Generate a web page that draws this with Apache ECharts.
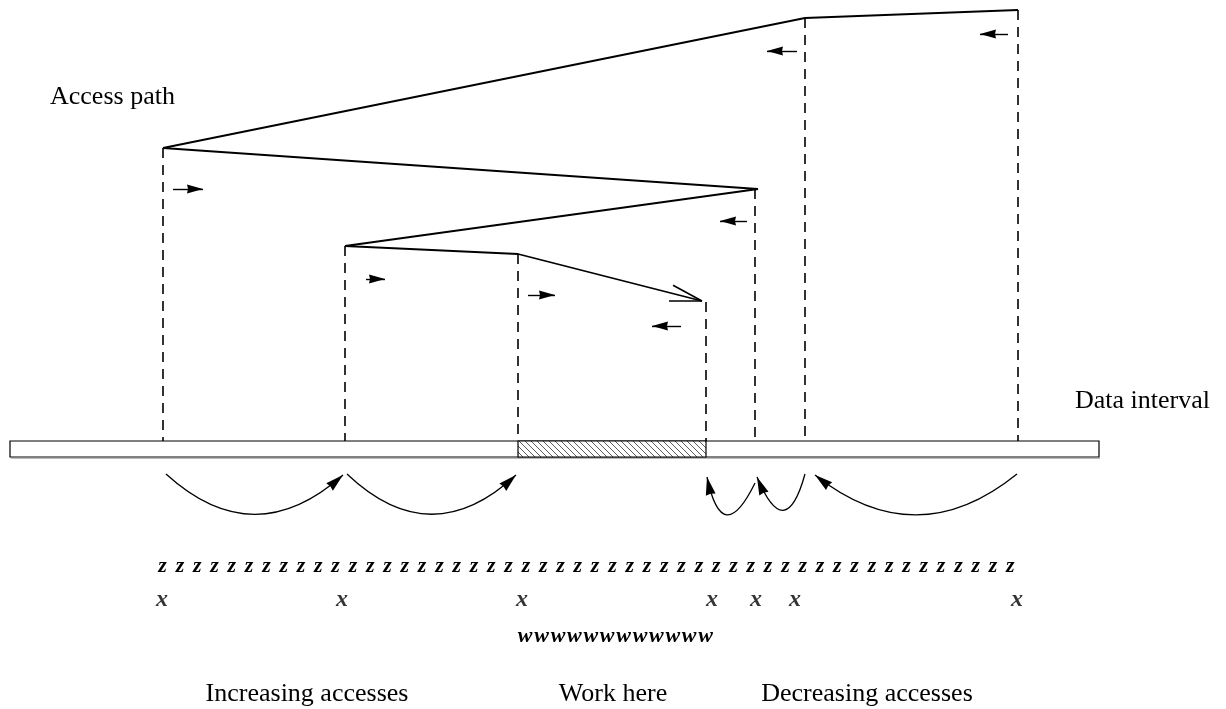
<!DOCTYPE html>
<html><head><meta charset="utf-8">
<script src="https://cdn.jsdelivr.net/npm/echarts@6/dist/echarts.min.js"></script>
<style>html,body{margin:0;padding:0;background:#fff}#c{width:1226px;height:709px}</style>
</head><body><div id="c"></div><script>
// Access path, in access order
const pathX = [1018, 805, 163, 758, 345, 518, 702];
const pathY = [10, 18, 148, 189, 246, 254, 301];
// Dashed drop lines (x, top y)
const dropX = [163, 345, 518, 706, 755, 805, 1018];
const dropTop = [148, 246, 254, 302, 189, 18, 10];
// Data interval bar
const intervalRange = [10, 1099];
const workRange = [518, 706];
const barRange = [441, 457];
// Direction arrows [x1, y1, x2, y2]
const dirArrows = [[173,189,203,189],[366,279,385,279],[528,295,555,295],[681,326,652,326],[747,221,720,221],[797,51,767,51],[1008,34,980,34]];
// Jump arrows below the interval
const jumpFrom = [166, 347, 755, 805, 1017];
const jumpTo = [343, 516, 707, 757, 815];
const jumpY1 = [474, 474, 483, 474, 474];
const jumpY2 = [475, 475, 477, 477, 475];
const jumpCurve = [-0.45, -0.47, 1.45, 1.45, 0.4];
// Marks row
const markX = [162, 342, 522, 712, 756, 795, 1017];
const zCount = 50;
const wCount = 12;
const labels = ['Access path', 'Data interval', 'Increasing accesses', 'Work here', 'Decreasing accesses'];

const serif = '"Liberation Serif", "DejaVu Serif", serif';
const chart = echarts.init(document.getElementById('c'), null, {renderer: 'canvas'});

// hatch pattern
const pc = document.createElement('canvas');
pc.width = 6; pc.height = 6;
const pctx = pc.getContext('2d');
pctx.fillStyle = '#fff'; pctx.fillRect(0,0,6,6);
pctx.strokeStyle = '#333'; pctx.lineWidth = 0.8;
pctx.beginPath();
pctx.moveTo(-1,-1); pctx.lineTo(7,7);
pctx.moveTo(-1,5); pctx.lineTo(1,7);
pctx.moveTo(5,-1); pctx.lineTo(7,1);
pctx.stroke();

const tipA = [pathX[pathX.length-2], pathY[pathY.length-2]];
const tipB = [pathX[pathX.length-1], pathY[pathY.length-1]];
const ang = Math.atan2(tipB[1]-tipA[1], tipB[0]-tipA[0]) + Math.PI;
const barbLen = 33, barbAng = 0.25;
const barbs = [-1, 1].map(s => ({coords: [tipB, [tipB[0] + barbLen*Math.cos(ang + s*barbAng), tipB[1] + barbLen*Math.sin(ang + s*barbAng)]]}));

// arrowheads: tip at the symbol centre
const headSmall = 'path://M0,0 M32,32 M16,16 L20.5,32 L16,31 L11.5,32 Z';
const headCurve = 'path://M0,0 M36,36 M18,18 L23,36 L18,35 L13,36 Z';

const txt = (t, x, y, align) => ({type: 'text', x, y, style: {text: t, x: 0, y: 0, align: align || 'left', verticalAlign: 'middle', font: '26px ' + serif, fill: '#000'}});
const bi = 'italic bold 22px ' + serif;

chart.setOption({
  animation: false,
  backgroundColor: '#fff',
  grid: {left: 0, right: 0, top: 0, bottom: 0},
  xAxis: {type: 'value', min: 0, max: 1226, show: false},
  yAxis: {type: 'value', min: 0, max: 709, inverse: true, show: false},
  graphic: [
    txt(labels[0], 50, 97),
    txt(labels[1], 1075, 401),
    txt(labels[2], 307, 694, 'center'),
    txt(labels[3], 613, 694, 'center'),
    txt(labels[4], 867, 694, 'center'),
    {type: 'text', x: 154, y: 566, style: {text: Array(zCount).fill('{z|z}').join(''), verticalAlign: 'middle',
      rich: {z: {width: 17.3, align: 'center', font: bi, fill: '#000'}}}},
    {type: 'text', x: 517, y: 636, style: {text: Array(wCount).fill('{w|w}').join(''), verticalAlign: 'middle',
      rich: {w: {width: 16.4, align: 'center', font: bi, fill: '#000'}}}}
  ],
  series: [
    {
      type: 'lines', coordinateSystem: 'cartesian2d', silent: true,
      lineStyle: {color: '#bbb', width: 1.2, opacity: 1},
      data: [{coords: [[intervalRange[0] + 1, barRange[1] + 1.5], [intervalRange[1] + 1, barRange[1] + 1.5]]}]
    },
    {
      type: 'custom', coordinateSystem: 'cartesian2d', silent: true,
      data: [[intervalRange[0], intervalRange[1], 0], [workRange[0], workRange[1], 1]],
      renderItem: (params, api) => {
        const p0 = api.coord([api.value(0), barRange[0]]);
        const p1 = api.coord([api.value(1), barRange[1]]);
        const hatched = api.value(2) === 1;
        return {type: 'rect', shape: {x: p0[0], y: p0[1], width: p1[0]-p0[0], height: p1[1]-p0[1]},
          style: {fill: hatched ? {image: pc, repeat: 'repeat'} : '#fff', stroke: '#000', lineWidth: 1.2}};
      }
    },
    {
      type: 'lines', coordinateSystem: 'cartesian2d', silent: true,
      lineStyle: {color: '#000', width: 1.6, type: [10, 7], opacity: 1},
      data: dropX.map((x, i) => ({coords: [[x, dropTop[i]], [x, barRange[0]]]}))
    },
    {
      type: 'line', silent: true, symbol: 'none',
      lineStyle: {color: '#000', width: 1.8},
      data: pathX.map((x, i) => [x, pathY[i]])
    },
    {
      type: 'lines', coordinateSystem: 'cartesian2d', silent: true,
      lineStyle: {color: '#000', width: 1.6, opacity: 1}, data: barbs
    },
    {
      type: 'lines', coordinateSystem: 'cartesian2d', silent: true,
      symbol: ['none', headSmall], symbolSize: 32,
      lineStyle: {color: '#000', width: 1.4, opacity: 1},
      data: dirArrows.map(a => ({coords: [[a[0], a[1]], [a[2], a[3]]]}))
    },
    {
      type: 'lines', coordinateSystem: 'cartesian2d', silent: true,
      symbol: ['none', headCurve], symbolSize: 36,
      lineStyle: {color: '#000', width: 1.3, opacity: 1},
      data: jumpFrom.map((x, i) => ({coords: [[x, jumpY1[i]], [jumpTo[i], jumpY2[i]]], lineStyle: {curveness: jumpCurve[i]}}))
    },
    {
      type: 'scatter', silent: true, symbolSize: 1, itemStyle: {color: 'rgba(0,0,0,0)'},
      label: {show: true, position: 'inside', formatter: 'x', color: '#000', fontFamily: serif, fontStyle: 'italic', fontWeight: 'bold', fontSize: 24},
      data: markX.map(x => [x, 600])
    }
  ]
});
</script></body></html>
